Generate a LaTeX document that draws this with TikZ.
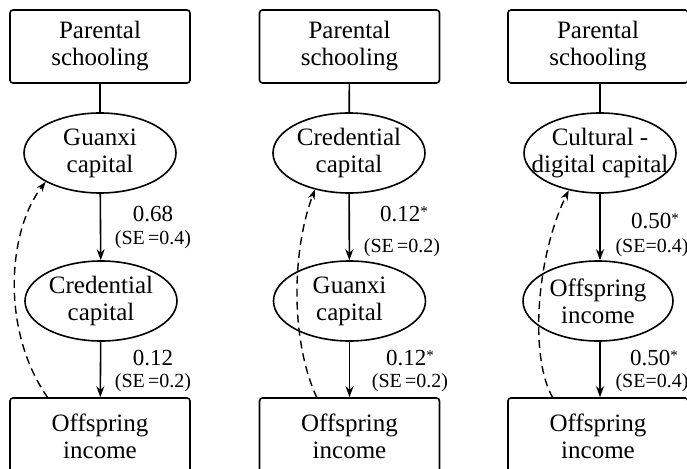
\documentclass[tikz,border=0pt]{standalone}
\usepackage{fontspec}
\setmainfont{Liberation Serif}
\usetikzlibrary{shapes.geometric,arrows.meta}
\newcommand{\sigstar}{\raisebox{5pt}{\fontsize{15}{15}\selectfont *}}
\begin{document}
\begin{tikzpicture}[x=1pt,y=-1pt,
 bx/.style={draw,rounded corners=3pt,line width=1.6pt,minimum width=180pt,minimum height=73pt,align=center,font=\fontsize{25}{27}\selectfont,inner sep=0pt},
 el/.style={draw,ellipse,line width=1.6pt,minimum width=152pt,minimum height=80pt,inner sep=0pt,align=center,font=\fontsize{25}{27}\selectfont},
 co/.style={font=\fontsize{23}{25}\selectfont,inner sep=0pt},
 se/.style={font=\fontsize{20}{22}\selectfont,inner sep=0pt},
 ln/.style={line width=1.6pt},
 ar/.style={line width=1.6pt,-{Stealth[length=11pt,width=8pt]}},
 da/.style={line width=1.4pt,dash pattern=on 8pt off 5pt,-{Stealth[length=10pt,width=7pt]}}]
\useasboundingbox (0,0) rectangle (687,468);
\clip (0,0) rectangle (687,468);

% column 1
\node[bx] (a1) at (100,46.5) {Parental\\schooling};
\node[el] (a2) at (100,153) {Guanxi\\capital};
\node[el] (a3) at (101,301) {Credential\\capital};
\node[bx,minimum height=76pt] (a4) at (100,436) {Offspring\\income};
\draw[ln] (a1) -- (a2);
\draw[ar] (a2) -- (a3);
\draw[ar] (a3) -- (a4);
\coordinate (as) at (48,398);
\draw[da] (as) .. controls (0,330) and (8,230) .. (a2.208);
\node[co] (a5) at (153,214.5) {0.68};
\node[se] (a6) at (153,240) {(SE\,=0.4)};
\node[co] (a7) at (153,358) {0.12};
\node[se] (a8) at (153,383) {(SE\,=0.2)};

% column 2
\node[bx] (b1) at (349.5,46.5) {Parental\\schooling};
\node[el] (b2) at (349,153) {Credential\\capital};
\node[el] (b3) at (349.5,301) {Guanxi\\capital};
\node[bx,minimum height=76pt] (b4) at (349.5,436) {Offspring\\income};
\draw[ln] (b1) -- (b2);
\draw[ar] (b2) -- (b3);
\draw[ar] (b3) -- (b4);
\coordinate (bs) at (317,398);
\draw[da] (bs) .. controls (290,340) and (292,250) .. (b2.227);
\node[co] (b5) at (404,214.5) {0.12\sigstar};
\node[se] (b6) at (402,248) {(SE\,=0.2)};
\node[co] (b7) at (410,358) {0.12\sigstar};
\node[se] (b8) at (410,383) {(SE\,=0.2)};

% column 3
\node[bx] (c1) at (598,46.5) {Parental\\schooling};
\node[el] (c2) at (600,153) {Cultural -\\\makebox[100pt][c]{digital capital}};
\node[el,minimum width=150pt] (c3) at (598,301) {Offspring\\income};
\node[bx,minimum height=76pt] (c4) at (598,436) {Offspring\\income};
\draw[ln] (c1.south -| c2) -- (c2);
\draw[ar] (c2) -- (c3.north -| c2);
\draw[ar] (c3.south -| c2) -- (c4.north -| c2);
\coordinate (cs) at (553,398);
\draw[da] (cs) .. controls (530,360) and (535,260) .. (c2.230);
\node[co] (c5) at (655,221) {0.50\sigstar};
\node[se] (c6) at (652,248) {(SE=0.4)};
\node[co] (c7) at (654,358) {0.50\sigstar};
\node[se] (c8) at (652,383) {(SE=0.4)};
\end{tikzpicture}
\end{document}
